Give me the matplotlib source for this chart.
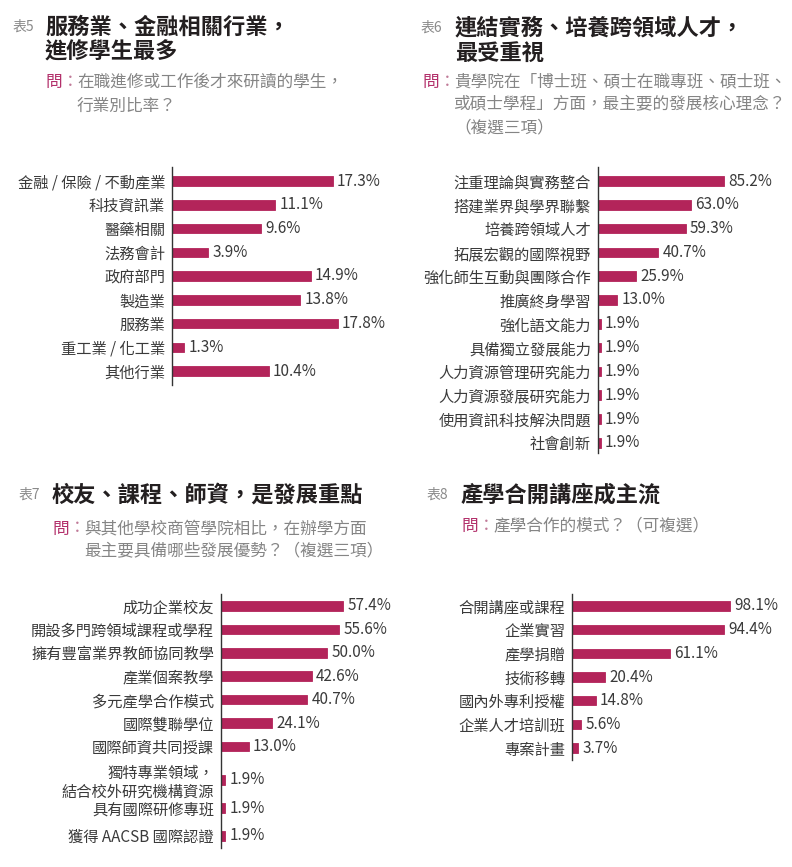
import matplotlib
matplotlib.use("Agg")
import matplotlib.pyplot as plt

plt.rcParams["font.family"] = ["Noto Sans CJK TC", "DejaVu Sans"]

# ── data ──────────────────────────────────────────────────────────────────────
t5_labels = ["金融 / 保險 / 不動產業", "科技資訊業", "醫藥相關", "法務會計", "政府部門",
             "製造業", "服務業", "重工業 / 化工業", "其他行業"]
t5_values = [17.3, 11.1, 9.6, 3.9, 14.9, 13.8, 17.8, 1.3, 10.4]

t6_labels = ["注重理論與實務整合", "搭建業界與學界聯繫", "培養跨領域人才", "拓展宏觀的國際視野",
             "強化師生互動與團隊合作", "推廣終身學習", "強化語文能力", "具備獨立發展能力",
             "人力資源管理研究能力", "人力資源發展研究能力", "使用資訊科技解決問題", "社會創新"]
t6_values = [85.2, 63.0, 59.3, 40.7, 25.9, 13.0, 1.9, 1.9, 1.9, 1.9, 1.9, 1.9]

t7_labels = ["成功企業校友", "開設多門跨領域課程或學程", "擁有豐富業界教師協同教學", "產業個案教學",
             "多元產學合作模式", "國際雙聯學位", "國際師資共同授課",
             "獨特專業領域，\n結合校外研究機構資源", "具有國際研修專班", "獲得 AACSB 國際認證"]
t7_values = [57.4, 55.6, 50.0, 42.6, 40.7, 24.1, 13.0, 1.9, 1.9, 1.9]

t8_labels = ["合開講座或課程", "企業實習", "產學捐贈", "技術移轉", "國內外專利授權",
             "企業人才培訓班", "專案計畫"]
t8_values = [98.1, 94.4, 61.1, 20.4, 14.8, 5.6, 3.7]

# ── style ─────────────────────────────────────────────────────────────────────
W, H = 792, 867
BAR = "#b3245a"
TITLE = "#231f20"
GREY = "#858585"
TAG = "#8a8a8a"
ASK = "#b3306b"
LABEL = "#3a3a3a"

fig = plt.figure(figsize=(W / 100, H / 100), dpi=100, facecolor="white")


def px(x, y):
    return x / W, 1 - y / H


def add_text(x, y, s, **kw):
    fx, fy = px(x, y)
    fig.text(fx, fy, s, va="center", ha="left", **kw)


def header(x_tag, x_title, y_title, tag, title_lines, ask_y, ask_x, ask_lines, line_gap):
    add_text(x_tag, y_title[0], tag, fontsize=10, color=TAG)
    for yy, line in zip(y_title, title_lines):
        add_text(x_title, yy, line, fontsize=16, fontweight="bold", color=TITLE)
    ax0 = x_title if ask_x is None else ask_x
    add_text(ax0, ask_y, "問", fontsize=12, color=ASK)
    add_text(ax0 + 17, ask_y, "：", fontsize=12, color="#c07a98")
    tx = ax0 + 32
    for i, line in enumerate(ask_lines):
        add_text(tx, ask_y + i * line_gap, line, fontsize=12, color=GREY)


def bar_panel(left, right, top, bottom, first_c, step, ypos, labels, values, scale):
    # scale: pixels per percent
    fx0, fy1 = px(left, top)
    fx1, fy0 = px(right, bottom)
    ax = fig.add_axes([fx0, fy0, fx1 - fx0, fy1 - fy0])
    xmax = (right - left) / scale
    ax.barh(ypos, values, height=9.5 / step, color=BAR, edgecolor=BAR,
            linewidth=0.6, zorder=3)
    ax.set_xlim(0, xmax)
    ax.set_ylim(ypos[-1] + (bottom - (first_c + ypos[-1] * step)) / step,
                -(first_c - top) / step)
    ax.set_yticks(ypos)
    ax.set_yticklabels(labels, fontsize=11, color=LABEL, linespacing=1.1)
    ax.tick_params(axis="y", length=0, pad=5)
    ax.set_xticks([])
    for s in ("top", "right", "bottom"):
        ax.spines[s].set_visible(False)
    ax.spines["left"].set_color("#333333")
    ax.spines["left"].set_linewidth(1.0)
    ax.spines["left"].set_zorder(4)
    for yv, v in zip(ypos, values):
        ax.annotate(f"{v:.1f}%", (v, yv), xytext=(3, 0), textcoords="offset points",
                    va="center", ha="left", fontsize=11, color=LABEL)
    ax.patch.set_alpha(0)
    return ax


# ── 表5 ──────────────────────────────────────────────────────────────────────
header(13, 45, [27, 52], "表5", ["服務業、金融相關行業，", "進修學生最多"],
       82, None, ["在職進修或工作後才來研讀的學生，", "行業別比率？"], 24)
bar_panel(172, 390, 167, 385, 181, 23.75, list(range(len(t5_values))),
          t5_labels, t5_values, 9.3)

# ── 表6 ──────────────────────────────────────────────────────────────────────
header(421, 455, [28, 53], "表6", ["連結實務、培養跨領域人才，", "最受重視"],
       82, 422, ["貴學院在「博士班、碩士在職專班、碩士班、",
                 "或碩士學程」方面，最主要的發展核心理念？", "（複選三項）"], 23)
bar_panel(598, 790, 167, 453, 181, 23.8, list(range(len(t6_values))),
          t6_labels, t6_values, 1.48)

# ── 表7 ──────────────────────────────────────────────────────────────────────
header(19, 52, [495], "表7", ["校友、課程、師資，是發展重點"],
       529, None, ["與其他學校商管學院相比，在辦學方面",
                   "最主要具備哪些發展優勢？（複選三項）"], 23)
gaps7 = [1, 1, 1, 1, 1, 1, 1.43, 1.21, 1.18]
ypos7 = [0.0]
for g in gaps7:
    ypos7.append(ypos7[-1] + g)
bar_panel(221, 400, 594, 848, 606, 23.4, ypos7, t7_labels, t7_values, 2.125)

# ── 表8 ──────────────────────────────────────────────────────────────────────
header(427, 461, [495], "表8", ["產學合開講座成主流"],
       526, None, ["產學合作的模式？（可複選）"], 23)
bar_panel(572, 790, 594, 760, 606, 23.67, list(range(len(t8_values))),
          t8_labels, t8_values, 1.61)

fig.savefig("out.png", dpi=100, facecolor="white")
plt.close(fig)
